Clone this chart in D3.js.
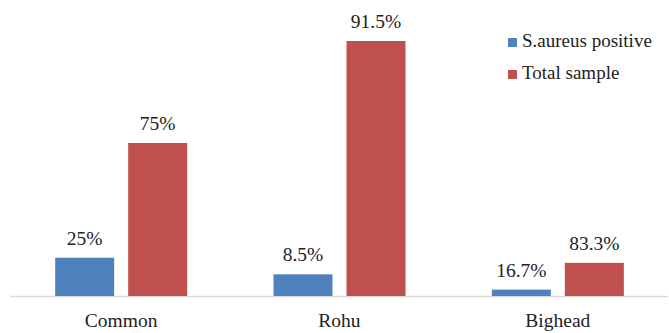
<!DOCTYPE html>
<html lang="en">
<head>
    <meta charset="UTF-8">
    <title>S.aureus by fish species</title>
    <script src="https://d3js.org/d3.v7.min.js"></script>
    <style>
        body { margin: 0; background: #fff; }
    </style>
</head>
<body>
<svg width="669" height="333"></svg>
<script>
    // data
    const categories = ["Common", "Rohu", "Bighead"];
    const seriesNames = ["S.aureus positive", "Total sample"];
    const colors = ["#4f81bd", "#c0504d"];
    // bar heights (as drawn)
    const positiveValues = [3, 1.7, 0.5];
    const totalValues = [12, 20, 2.6];
    // printed labels
    const positiveLabels = ["25%", "8.5%", "16.7%"];
    const totalLabels = ["75%", "91.5%", "83.3%"];

    const FONT = "'Liberation Serif'";
    const svg = d3.select("svg");
    const baseY = 296;

    const x0 = d3.scaleBand().domain(categories).range([12, 667]).padding(0);
    const bw = x0.bandwidth();
    const x1 = d3.scaleBand().domain(seriesNames)
        .range([bw / 2 - 66, bw / 2 + 66])
        .paddingInner(0.192).paddingOuter(0);
    const y = d3.scaleLinear().domain([0, 20]).range([baseY, 41]);

    const rows = categories.map((c, i) => ({
        cat: c,
        bars: [
            {s: seriesNames[0], v: positiveValues[i], label: positiveLabels[i], color: colors[0]},
            {s: seriesNames[1], v: totalValues[i], label: totalLabels[i], color: colors[1]}
        ]
    }));

    // baseline
    svg.append("line")
        .attr("x1", 10).attr("x2", 668)
        .attr("y1", baseY + 0.5).attr("y2", baseY + 0.5)
        .attr("stroke", "#d9d9d9").attr("stroke-width", 1.5);

    const groups = svg.selectAll("g.cat")
        .data(rows)
        .enter().append("g")
        .attr("class", "cat")
        .attr("transform", d => `translate(${x0(d.cat)},0)`);

    groups.selectAll("rect")
        .data(d => d.bars)
        .enter().append("rect")
        .attr("x", d => x1(d.s))
        .attr("width", x1.bandwidth())
        .attr("y", d => y(d.v))
        .attr("height", d => baseY - y(d.v))
        .attr("fill", d => d.color);

    groups.selectAll("text.lbl")
        .data(d => d.bars)
        .enter().append("text")
        .attr("class", "lbl")
        .attr("x", d => x1(d.s) + x1.bandwidth() / 2)
        .attr("y", d => y(d.v) - 13)
        .attr("text-anchor", "middle")
        .style("font-family", FONT)
        .attr("font-size", 19.5)
        .attr("fill", "#222")
        .text(d => d.label);

    // category axis labels
    svg.append("g").selectAll("text")
        .data(categories)
        .enter().append("text")
        .attr("x", d => x0(d) + bw / 2)
        .attr("y", 327)
        .attr("text-anchor", "middle")
        .style("font-family", FONT)
        .attr("font-size", 19.5)
        .attr("fill", "#222")
        .text(d => d);

    // legend
    const legend = svg.append("g").attr("transform", "translate(508,38)");
    seriesNames.forEach((s, i) => {
        legend.append("rect")
            .attr("x", 0).attr("y", i * 32)
            .attr("width", 9).attr("height", 9)
            .attr("fill", colors[i]);
        legend.append("text")
            .attr("x", 14).attr("y", i * 32 + 9)
            .style("font-family", FONT)
            .attr("font-size", 19)
            .attr("fill", "#222")
            .text(s);
    });
</script>
</body>
</html>
